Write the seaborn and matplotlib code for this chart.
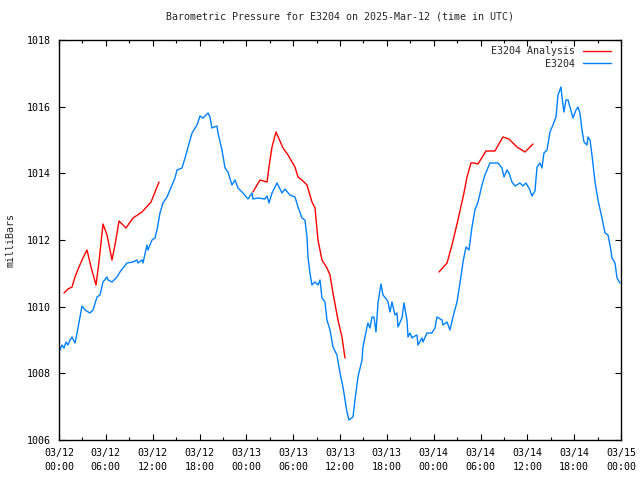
import numpy as np
import pandas as pd
import matplotlib
matplotlib.use('Agg')
import matplotlib.pyplot as plt
import seaborn as sns
from matplotlib.lines import Line2D
from matplotlib.ticker import MultipleLocator

# hours since 2025-03-12 00:00 UTC and pressure (mb)
obs_hour = [0.13, 0.38, 0.64, 0.90, 1.15, 1.41, 1.67, 2.05, 2.31, 2.69, 2.95, 3.33, 3.97, 4.36,
            4.87, 5.25, 5.64, 6.15, 6.28, 6.79, 7.43, 7.81, 8.20, 8.71, 9.48, 9.99, 10.12, 10.63,
            10.76, 11.27, 11.40, 11.91, 12.30, 12.55, 12.94, 13.32, 13.84, 14.22, 14.86, 15.12,
            15.76, 16.14, 16.53, 17.04, 17.68, 18.06, 18.45, 19.09, 19.34, 19.60, 20.24, 20.37,
            20.88, 21.27, 21.65, 22.16, 22.55, 22.93, 23.57, 24.21, 24.72, 24.85, 25.49, 26.39,
            26.65, 26.90, 27.29, 27.93, 28.57, 28.95, 29.59, 30.23, 30.62, 31.13, 31.51, 31.77,
            31.90, 32.15, 32.41, 32.80, 33.18, 33.44, 33.69, 34.08, 34.33, 34.72, 35.10, 35.61,
            36.00, 36.38, 36.64, 36.89, 37.15, 37.66, 37.92, 38.30, 38.82, 38.94, 39.46, 39.58,
            39.84, 40.10, 40.35, 40.61, 40.87, 41.25, 41.51, 42.02, 42.15, 42.40, 42.66, 43.04,
            43.30, 43.43, 43.94, 44.20, 44.58, 44.71, 44.97, 45.22, 45.35, 45.86, 45.99, 46.50,
            46.63, 47.14, 47.78, 48.17, 48.42, 49.06, 49.19, 49.71, 50.09, 50.47, 50.99, 51.37,
            51.76, 52.14, 52.52, 52.91, 53.29, 53.68, 54.19, 54.57, 55.21, 56.24, 56.75, 57.01,
            57.39, 57.65, 58.03, 58.42, 59.06, 59.44, 59.83, 60.34, 60.59, 60.98, 61.24, 61.62,
            61.87, 62.13, 62.52, 62.90, 63.28, 63.67, 63.93, 64.31, 64.44, 64.69, 64.95, 65.21,
            65.85, 66.23, 66.49, 66.74, 67.00, 67.26, 67.64, 67.77, 68.03, 68.28, 68.67, 69.05,
            69.56, 69.95, 70.33, 70.59, 70.85, 71.23, 71.49, 71.87]
obs_mb = [1008.70, 1008.85, 1008.76, 1008.94, 1008.85, 1009.00, 1009.09, 1008.91, 1009.21, 1009.69,
          1010.02, 1009.90, 1009.81, 1009.90, 1010.29, 1010.35, 1010.74, 1010.89, 1010.80, 1010.74,
          1010.89, 1011.04, 1011.16, 1011.31, 1011.34, 1011.40, 1011.31, 1011.40, 1011.31, 1011.85,
          1011.70, 1012.00, 1012.06, 1012.30, 1012.81, 1013.11, 1013.29, 1013.50, 1013.86, 1014.10,
          1014.16, 1014.46, 1014.79, 1015.21, 1015.45, 1015.72, 1015.66, 1015.81, 1015.69, 1015.36,
          1015.42, 1015.21, 1014.70, 1014.16, 1014.04, 1013.65, 1013.80, 1013.56, 1013.41, 1013.23,
          1013.41, 1013.23, 1013.26, 1013.23, 1013.32, 1013.11, 1013.41, 1013.71, 1013.41, 1013.53,
          1013.35, 1013.29, 1012.99, 1012.66, 1012.60, 1012.09, 1011.49, 1011.01, 1010.65, 1010.74,
          1010.65, 1010.80, 1010.26, 1010.14, 1009.60, 1009.30, 1008.79, 1008.55, 1008.01, 1007.59,
          1007.20, 1006.84, 1006.60, 1006.69, 1007.20, 1007.89, 1008.40, 1008.79, 1009.39, 1009.51,
          1009.36, 1009.69, 1009.69, 1009.24, 1010.11, 1010.68, 1010.35, 1010.20, 1010.14, 1009.84,
          1010.14, 1009.75, 1009.81, 1009.39, 1009.66, 1010.11, 1009.60, 1009.09, 1009.21, 1009.06,
          1009.09, 1009.15, 1008.85, 1009.06, 1008.94, 1009.21, 1009.21, 1009.36, 1009.69, 1009.60,
          1009.45, 1009.54, 1009.30, 1009.69, 1010.14, 1010.71, 1011.34, 1011.79, 1011.70, 1012.39,
          1012.90, 1013.14, 1013.65, 1013.95, 1014.31, 1014.31, 1014.16, 1013.89, 1014.10, 1014.01,
          1013.74, 1013.62, 1013.71, 1013.62, 1013.71, 1013.50, 1013.32, 1013.47, 1014.19, 1014.31,
          1014.16, 1014.61, 1014.70, 1015.24, 1015.45, 1015.69, 1016.35, 1016.59, 1016.29, 1015.84,
          1016.20, 1016.20, 1015.66, 1015.90, 1015.99, 1015.81, 1015.30, 1014.94, 1014.85, 1015.09,
          1015.00, 1014.55, 1013.74, 1013.20, 1012.66, 1012.21, 1012.15, 1011.85, 1011.46, 1011.31,
          1010.86, 1010.71]

# analysis comes in three separate runs
ana_run = [1] * 21 + [2] * 22 + [3] * 16
ana_hour = [0.64, 1.15, 1.67, 2.05, 2.56, 3.07, 3.59, 4.10, 4.74, 5.12, 5.64, 6.15, 6.79, 7.17,
            7.69, 8.58, 9.48, 10.63, 11.79, 12.30, 12.81,
            24.85, 25.75, 26.65, 26.90, 27.29, 27.80, 28.70, 29.34, 30.23, 30.62, 31.26, 31.77,
            32.41, 32.80, 33.18, 33.69, 34.33, 34.72, 35.10, 35.74, 36.25, 36.64,
            48.68, 49.71, 50.35, 51.11, 51.88, 52.27, 52.78, 53.16, 53.68, 54.70, 55.85, 56.87,
            57.65, 58.67, 59.70, 60.72]
ana_mb = [1010.41, 1010.53, 1010.59, 1010.89, 1011.19, 1011.46, 1011.70, 1011.19, 1010.65, 1011.34,
          1012.48, 1012.15, 1011.40, 1011.85, 1012.57, 1012.36, 1012.66, 1012.84, 1013.14, 1013.44,
          1013.74,
          1013.44, 1013.80, 1013.74, 1014.19, 1014.79, 1015.24, 1014.76, 1014.55, 1014.19, 1013.89,
          1013.77, 1013.65, 1013.14, 1012.96, 1012.00, 1011.40, 1011.16, 1010.95, 1010.41, 1009.60,
          1009.09, 1008.46,
          1011.04, 1011.31, 1011.85, 1012.60, 1013.41, 1013.89, 1014.31, 1014.31, 1014.28, 1014.67,
          1014.67, 1015.09, 1015.03, 1014.79, 1014.64, 1014.88]

tick_hours = list(range(0, 73, 6))
tick_labels = ['03/12\n00:00', '03/12\n06:00', '03/12\n12:00', '03/12\n18:00',
               '03/13\n00:00', '03/13\n06:00', '03/13\n12:00', '03/13\n18:00',
               '03/14\n00:00', '03/14\n06:00', '03/14\n12:00', '03/14\n18:00',
               '03/15\n00:00']

obs = pd.DataFrame({'hour': obs_hour, 'mb': obs_mb})
ana = pd.DataFrame({'hour': ana_hour, 'mb': ana_mb, 'run': ana_run})

sns.set_style('ticks')
plt.rcParams['font.family'] = ['DejaVu Sans Mono']
plt.rcParams['font.size'] = 7.2

red = '#ff0000'
blue = '#0080ff'

fig = plt.figure(figsize=(6.4, 4.8), dpi=100)
ax = fig.add_axes([59 / 640, 40 / 480, 562 / 640, 400 / 480])

sns.lineplot(data=ana, x='hour', y='mb', units='run', estimator=None,
             color=red, lw=1, ax=ax, legend=False)
sns.lineplot(data=obs, x='hour', y='mb', estimator=None,
             color=blue, lw=1, ax=ax, legend=False)

ax.set_xlim(0, 72)
ax.set_ylim(1006, 1018)
ax.set_xticks(tick_hours)
ax.set_xticklabels(tick_labels, linespacing=1.45)
ax.xaxis.set_minor_locator(MultipleLocator(3))
ax.set_yticks(range(1006, 1019, 2))
ax.tick_params(which='both', direction='in', top=True, right=True, width=0.8, colors='black',
               labelsize=7.2)
ax.tick_params(which='major', length=4.5, pad=6)
ax.tick_params(axis='y', pad=6)
ax.tick_params(which='minor', length=2.5)
for s in ax.spines.values():
    s.set_linewidth(1)
    s.set_color('black')

ax.set_xlabel('')
ax.set_ylabel('milliBars', labelpad=8, fontsize=7.2)
ax.set_title('Barometric Pressure for E3204 on 2025-Mar-12 (time in UTC)', pad=15, fontsize=7.2)

handles = [Line2D([], [], color=red, lw=1), Line2D([], [], color=blue, lw=1)]
ax.legend(handles, ['E3204 Analysis', 'E3204'], loc='upper right', bbox_to_anchor=(0.993, 1.0),
          frameon=False, markerfirst=False, handlelength=2.8, handletextpad=0.8, fontsize=7.2,
          borderaxespad=0.25, labelspacing=0.25)

fig.savefig('out.png', dpi=100)
